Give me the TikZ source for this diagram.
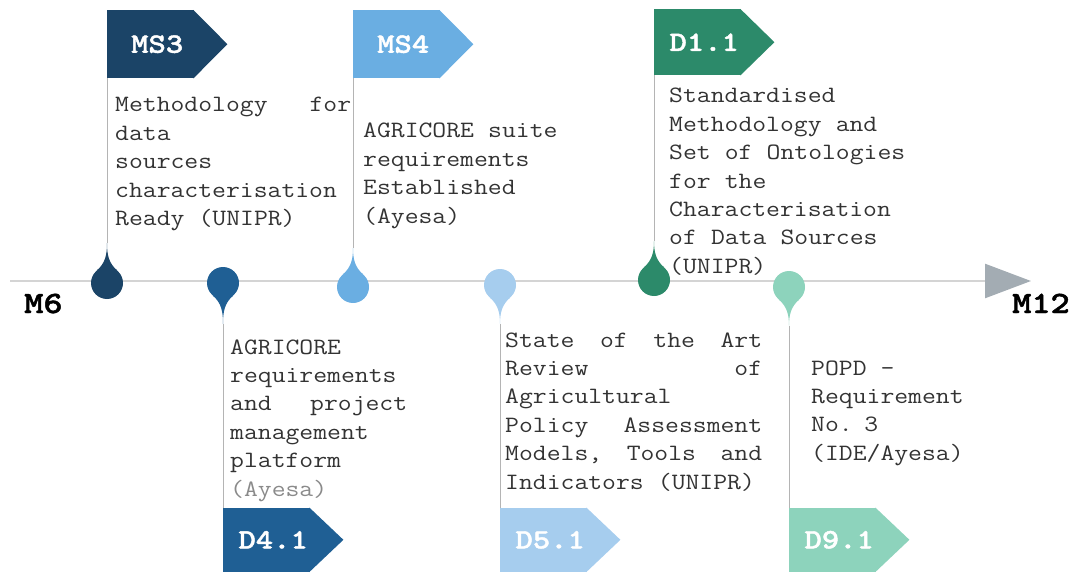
\documentclass[tikz,border=0pt]{standalone}
\usepackage{fontspec}
\newfontfamily\descfont[FakeStretch=1.15]{Latin Modern Mono}
\newfontfamily\labelfont[FakeStretch=1.18, FakeBold=1.5]{lmmonolt10-bold.otf}
\usepackage{xcolor}
\usepackage{tikz}
\usetikzlibrary{arrows.meta}

\definecolor{mscol}{HTML}{1B4467}
\definecolor{dfourcol}{HTML}{1F5F94}
\definecolor{msfourcol}{HTML}{6AAEE2}
\definecolor{dfivecol}{HTML}{A6CDEE}
\definecolor{donecol}{HTML}{2C8A6A}
\definecolor{dninecol}{HTML}{8DD3BC}
\definecolor{axisgray}{HTML}{D4D4D4}
\definecolor{headgray}{HTML}{A3ACB3}
\definecolor{stemgray}{HTML}{B4B4B4}
\definecolor{desctext}{HTML}{333333}
\definecolor{lighttext}{HTML}{8A8A8A}

\begin{document}
\begin{tikzpicture}[x=1pt, y=1pt]
        % Define styles
        \tikzset{
            drop/.style={circle, inner sep=0pt, minimum size=32pt},
            stem/.style={draw=stemgray, line width=1pt},
            flagbody/.style={rectangle, inner sep=0pt, minimum width=87pt},
            flaglabel/.style={inner sep=0pt, text=white, font=\labelfont\fontsize{28}{28}\selectfont},
            desc/.style={anchor=base west, inner sep=0pt, align=left, text=desctext, font=\descfont\fontsize{23.4}{28.4}\selectfont, execute at begin node={\spaceskip 14.1pt\relax}},
            mlabel/.style={anchor=base west, inner sep=0pt, font=\labelfont\fontsize{31}{31}\selectfont},
            timeline/.style={draw=axisgray, line width=2.5pt, -{Triangle[length=46pt, width=34pt, color=headgray]}}
        }
        \useasboundingbox (0,0) rectangle (1078,574);

        % Time axis
        \coordinate (axis_start) at (10,293);
        \coordinate (axis_end) at (1031,293);
        \draw[timeline] (axis_start) -- (axis_end);
        \node[mlabel] (m6) at (24,261) {M6};
        \node[mlabel] (m12) at (1012,261) {M12};

        % Flags
        \node[flagbody, minimum height=68pt, fill=mscol, anchor=north west] (ms3_flag) at (107,564) {};
        \node[flagbody, minimum height=64pt, fill=dfourcol, anchor=south west] (d41_flag) at (223,2) {};
        \node[flagbody, minimum height=68pt, fill=msfourcol, anchor=north west] (ms4_flag) at (353,564) {};
        \node[flagbody, minimum height=64pt, fill=dfivecol, anchor=south west] (d51_flag) at (500,2) {};
        \node[flagbody, minimum height=66pt, fill=donecol, anchor=north west] (d11_flag) at (654,565) {};
        \node[flagbody, minimum height=64pt, fill=dninecol, anchor=south west] (d91_flag) at (789,2) {};
        \fill[mscol] ([xshift=-1pt]ms3_flag.north east) -- ([xshift=33pt]ms3_flag.east) -- ([xshift=-1pt]ms3_flag.south east) -- cycle;
        \fill[dfourcol] ([xshift=-1pt]d41_flag.north east) -- ([xshift=33pt]d41_flag.east) -- ([xshift=-1pt]d41_flag.south east) -- cycle;
        \fill[msfourcol] ([xshift=-1pt]ms4_flag.north east) -- ([xshift=33pt]ms4_flag.east) -- ([xshift=-1pt]ms4_flag.south east) -- cycle;
        \fill[dfivecol] ([xshift=-1pt]d51_flag.north east) -- ([xshift=33pt]d51_flag.east) -- ([xshift=-1pt]d51_flag.south east) -- cycle;
        \fill[donecol] ([xshift=-1pt]d11_flag.north east) -- ([xshift=33pt]d11_flag.east) -- ([xshift=-1pt]d11_flag.south east) -- cycle;
        \fill[dninecol] ([xshift=-1pt]d91_flag.north east) -- ([xshift=33pt]d91_flag.east) -- ([xshift=-1pt]d91_flag.south east) -- cycle;
        \node[flaglabel] (ms3_label) at ([xshift=6.5pt]ms3_flag.center) {MS3};
        \node[flaglabel] (d41_label) at ([xshift=6.5pt]d41_flag.center) {D4.1};
        \node[flaglabel] (ms4_label) at ([xshift=6.5pt]ms4_flag.center) {MS4};
        \node[flaglabel] (d51_label) at ([xshift=6.5pt]d51_flag.center) {D5.1};
        \node[flaglabel] (d11_label) at ([xshift=6.5pt]d11_flag.center) {D1.1};
        \node[flaglabel] (d91_label) at ([xshift=6.5pt]d91_flag.center) {D9.1};

        % Drops on the axis
        \node[drop, fill=mscol] (ms3_drop) at (107,291) {};
        \node[drop, fill=dfourcol] (d41_drop) at (223,291) {};
        \node[drop, fill=msfourcol] (ms4_drop) at (353,287) {};
        \node[drop, fill=dfivecol] (d51_drop) at (500,289) {};
        \node[drop, fill=donecol] (d11_drop) at (654,294) {};
        \node[drop, fill=dninecol] (d91_drop) at (789,287) {};
        \coordinate (ms3_tip) at (107,331);
        \coordinate (d41_tip) at (223,250);
        \coordinate (ms4_tip) at (353,326);
        \coordinate (d51_tip) at (500,250);
        \coordinate (d11_tip) at (654,333);
        \coordinate (d91_tip) at (789,248);
        \fill[mscol] (ms3_drop.50) to[out=140, in=-90] (ms3_tip) to[out=-90, in=40] (ms3_drop.130) -- cycle;
        \fill[dfourcol] (d41_drop.-50) to[out=-140, in=90] (d41_tip) to[out=90, in=-40] (d41_drop.-130) -- cycle;
        \fill[msfourcol] (ms4_drop.50) to[out=140, in=-90] (ms4_tip) to[out=-90, in=40] (ms4_drop.130) -- cycle;
        \fill[dfivecol] (d51_drop.-50) to[out=-140, in=90] (d51_tip) to[out=90, in=-40] (d51_drop.-130) -- cycle;
        \fill[donecol] (d11_drop.50) to[out=140, in=-90] (d11_tip) to[out=-90, in=40] (d11_drop.130) -- cycle;
        \fill[dninecol] (d91_drop.-50) to[out=-140, in=90] (d91_tip) to[out=90, in=-40] (d91_drop.-130) -- cycle;

        % Stems
        \draw[stem] (ms3_tip) -- (ms3_flag.south west);
        \draw[stem] (d41_tip) -- (d41_flag.north west);
        \draw[stem] (ms4_tip) -- (ms4_flag.south west);
        \draw[stem] (d51_tip) -- (d51_flag.north west);
        \draw[stem] (d11_tip) -- (d11_flag.south west);
        \draw[stem] (d91_tip) -- (d91_flag.north west);

        % Descriptions
        \node[desc, text width=236pt] (ms3_text) at (115,462) {Methodology\hfill for\\ data\\ sources\\ characterisation\\ Ready (UNIPR)};
        \node[desc, text width=177pt] (d41_text) at (230,220) {AGRICORE\\ requirements\\ and\hfill project\\ management\\ platform\\ \textcolor{lighttext}{(Ayesa)}};
        \node[desc, text width=220pt] (ms4_text) at (363,436) {AGRICORE suite\\ requirements\\ Established\\ (Ayesa)};
        \node[desc, text width=257pt] (d51_text) at (505,227) {State\hfill of\hfill the\hfill Art\\ Review\hfill of\\ Agricultural\\ Policy\hfill Assessment\\ Models,\hfill Tools\hfill and\\ Indicators (UNIPR)};
        \node[desc, text width=250pt] (d11_text) at (669,471) {Standardised\\ Methodology and\\ Set of Ontologies\\ for the\\ Characterisation\\ of Data Sources\\ (UNIPR)};
        \node[desc, text width=170pt] (d91_text) at (811,199) {POPD -\\ Requirement\\ No. 3\\ (IDE/Ayesa)};
    \end{tikzpicture}
\end{document}
